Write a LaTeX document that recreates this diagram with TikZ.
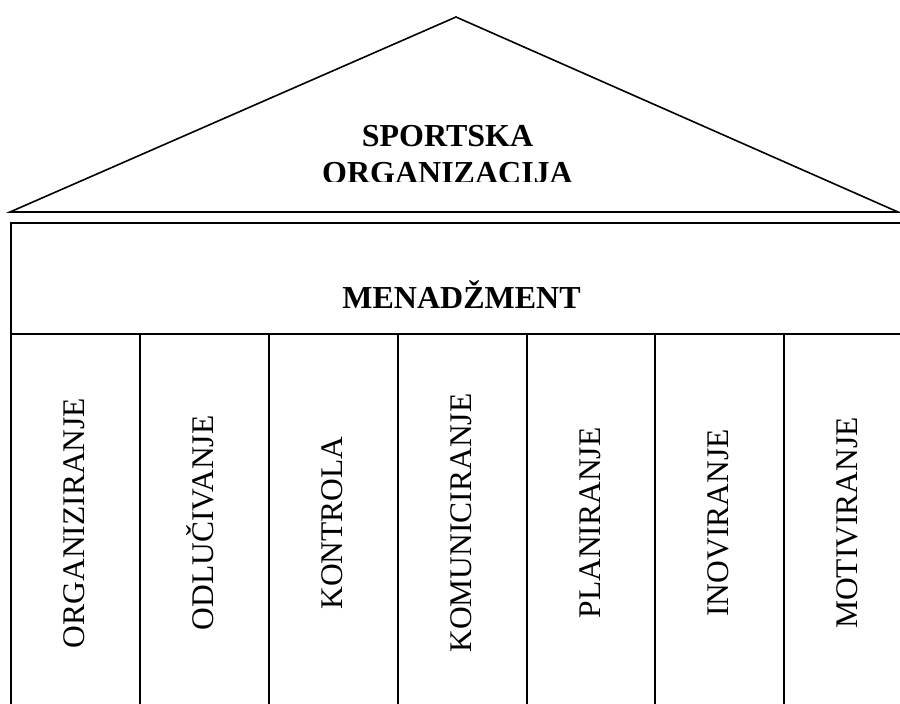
\documentclass[tikz,border=0pt]{standalone}
\usepackage{fontspec}
\setmainfont{Liberation Serif}
\begin{document}
\begin{tikzpicture}[x=1pt,y=-1pt,line width=1.6pt,
  title/.style={font=\fontsize{32}{36}\selectfont\bfseries,inner sep=0pt,anchor=base},
  pillar/.style={font=\fontsize{31.5}{36}\selectfont,inner sep=0pt,anchor=base,rotate=90}]
\clip (0,0) rectangle (900,704);
\fill[white] (0,0) rectangle (900,704);
% roof
\draw (10,212) -- (456,17) -- (898,212) -- cycle;
\node[title] (sport) at (447.5,146) {SPORTSKA};
\begin{scope}
  \clip (250,150) rectangle (650,181);
  \node[title] (org) at (447.5,183) {ORGANIZACIJA};
\end{scope}
% body
\draw (11,223) rectangle (913,712);
\draw (11,334) -- (913,334);
\foreach \x in {140,269,398,527,655,784} \draw (\x,334) -- (\x,712);
\node[title] (men) at (461.5,308) {MENADŽMENT};
% pillars
\node[pillar] (p1) at (84.5,523) {ORGANIZIRANJE};
\node[pillar] (p2) at (213.5,523) {ODLUČIVANJE};
\node[pillar] (p3) at (342.5,523) {KONTROLA};
\node[pillar] (p4) at (471.5,523) {KOMUNICIRANJE};
\node[pillar] (p5) at (600,523) {PLANIRANJE};
\node[pillar] (p6) at (728.5,523) {INOVIRANJE};
\node[pillar] (p7) at (857.5,523) {MOTIVIRANJE};
\end{tikzpicture}
\end{document}
